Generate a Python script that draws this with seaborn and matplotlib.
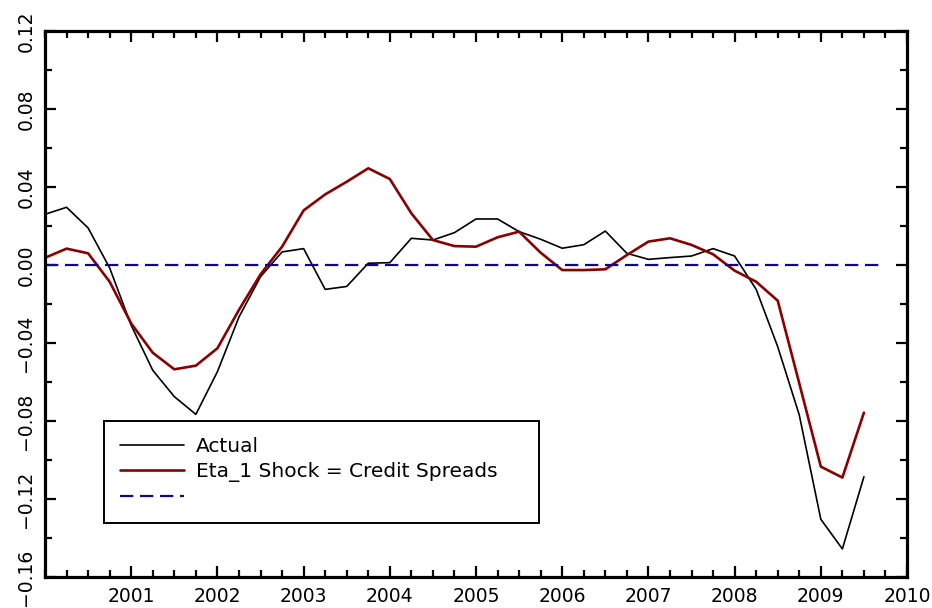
import numpy as np
import pandas as pd
import matplotlib
matplotlib.use("Agg")
import matplotlib.pyplot as plt
from matplotlib.ticker import MultipleLocator, FixedLocator
import seaborn as sns

# quarterly dates 2000Q1 .. 2009Q3
dates = [2000 + q / 4 for q in range(39)]

actual = [0.026, 0.0296, 0.019, -0.0015, -0.031, -0.054, -0.0675, -0.0766,
          -0.0547, -0.0267, -0.006, 0.0067, 0.0084, -0.0125, -0.011, 0.0009,
          0.0012, 0.0137, 0.0128, 0.0166, 0.0236, 0.0236, 0.0171, 0.0132,
          0.0086, 0.0104, 0.0174, 0.006, 0.0029, 0.0038, 0.0046, 0.0084,
          0.0046, -0.0125, -0.0419, -0.0769, -0.1304, -0.1456, -0.1086]

eta1_credit = [0.0037, 0.0084, 0.006, -0.0086, -0.030, -0.045, -0.0535, -0.0516,
               -0.0427, -0.023, -0.0048, 0.0094, 0.028, 0.0362, 0.0427, 0.0496,
               0.0441, 0.0265, 0.0128, 0.0097, 0.0094, 0.0142, 0.0171, 0.0063,
               -0.0026, -0.0026, -0.0022, 0.0051, 0.012, 0.0137, 0.0103, 0.0055,
               -0.0029, -0.0086, -0.0183, -0.0607, -0.1034, -0.109, -0.0757]

zero_x = [2000.0, 2009.7]
zero_y = [0.0, 0.0]

labels = ["Actual", "Eta_1 Shock = Credit Spreads", " "]
xtick_years = list(range(2001, 2011))
ytick_vals = [-0.16, -0.12, -0.08, -0.04, 0.00, 0.04, 0.08, 0.12]

sns.set_style("ticks")
plt.rcParams["font.family"] = ["DejaVu Sans"]
plt.rcParams["text.color"] = "black"
plt.rcParams["xtick.color"] = "black"
plt.rcParams["ytick.color"] = "black"

df = pd.DataFrame({"date": dates, "actual": actual, "eta1": eta1_credit})
dz = pd.DataFrame({"date": zero_x, "zero": zero_y})

fig = plt.figure(figsize=(9.32, 6.08), dpi=100)
ax = fig.add_axes([0.0483, 0.051, 0.9249, 0.898])

sns.lineplot(data=df, x="date", y="actual", ax=ax, color="black", lw=1.2)
sns.lineplot(data=df, x="date", y="eta1", ax=ax, color="#8b0000", lw=1.9)
sns.lineplot(data=dz, x="date", y="zero", ax=ax, color="#0a0a8a", lw=1.6,
             dashes=False, linestyle=(0, (6, 3)))

ax.set_xlim(2000, 2010)
ax.set_ylim(-0.16, 0.12)
ax.set_xlabel("")
ax.set_ylabel("")

ax.xaxis.set_major_locator(FixedLocator(xtick_years))
ax.xaxis.set_minor_locator(MultipleLocator(0.25))
ax.yaxis.set_major_locator(FixedLocator(ytick_vals))
ax.yaxis.set_minor_locator(MultipleLocator(0.02))
ax.set_xticklabels([str(y) for y in xtick_years])
ax.set_yticklabels([f"{v:.2f}".replace("-", "\u2212") for v in ytick_vals],
                   rotation=90, va="center")

ax.tick_params(which="both", direction="in", top=True, right=True,
               width=1.6, labelsize=13.5, labelcolor="black", color="black")
ax.tick_params(which="major", length=8, pad=7)
ax.tick_params(which="minor", length=5)
for s in ax.spines.values():
    s.set_linewidth(2.3)
    s.set_color("black")

lines = ax.get_lines()
leg = ax.legend(lines[:3], labels, loc="lower left",
                bbox_to_anchor=(0.068, 0.099, 0.505, 0.189), mode="expand",
                fontsize=14.5, frameon=True, fancybox=False, borderaxespad=0,
                handlelength=3.2, handletextpad=0.6, labelspacing=0.3,
                borderpad=0.8)
leg.get_frame().set_edgecolor("black")
leg.get_frame().set_linewidth(1.4)
leg.get_frame().set_alpha(1)
for t in leg.get_texts():
    t.set_color("black")

fig.savefig("out.png", dpi=100)
